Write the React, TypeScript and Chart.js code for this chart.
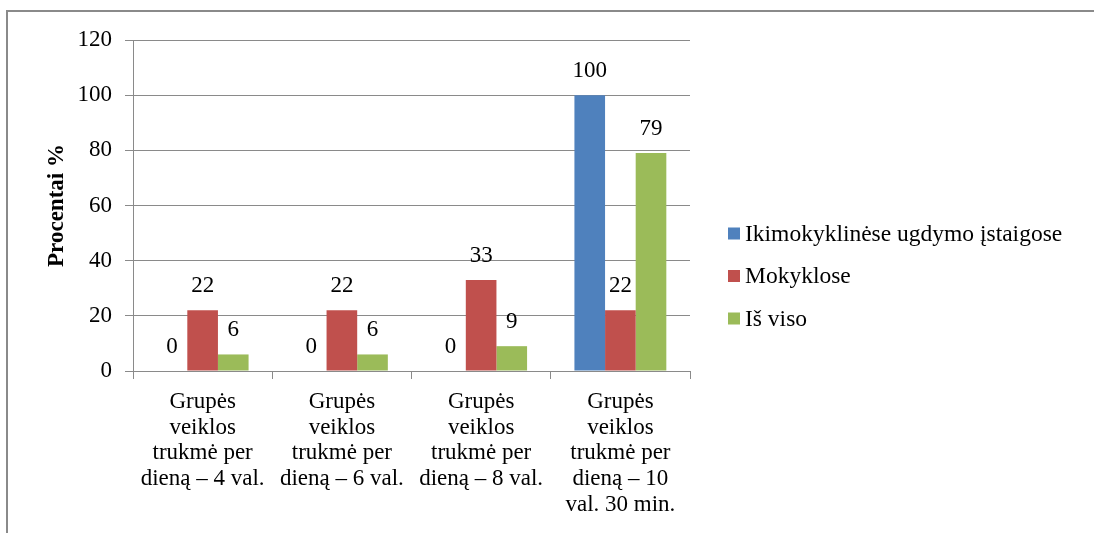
import React, { useEffect, useRef } from "react";
import { Chart, registerables } from "chart.js";

Chart.register(...registerables);

const categories: string[][] = [
  ["Grupės", "veiklos", "trukmė per", "dieną – 4 val."],
  ["Grupės", "veiklos", "trukmė per", "dieną – 6 val."],
  ["Grupės", "veiklos", "trukmė per", "dieną – 8 val."],
  ["Grupės", "veiklos", "trukmė per", "dieną – 10", "val. 30 min."],
];

const seriesNames = ["Ikimokyklinėse ugdymo įstaigose", "Mokyklose", "Iš viso"];
const ikimokyklinese = [0, 0, 0, 100];
const mokyklose = [22, 22, 33, 22];
const isViso = [6, 6, 9, 79];
const seriesColors = ["#4F81BD", "#C0504D", "#9BBB59"];

const yTitle = "Procentai %";
const yMin = 0;
const yMax = 120;
const yStep = 20;

const FONT = "'Liberation Serif', 'Times New Roman', serif";
const GRID = "#8a8a8a";

const valueLabels = {
  id: "valueLabels",
  afterDatasetsDraw(chart: any) {
    const ctx = chart.ctx;
    ctx.save();
    ctx.font = `23px ${FONT}`;
    ctx.fillStyle = "#000";
    ctx.textAlign = "center";
    ctx.textBaseline = "middle";
    chart.data.datasets.forEach((ds: any, i: number) => {
      const meta = chart.getDatasetMeta(i);
      meta.data.forEach((bar: any, j: number) => {
        ctx.fillText(String(ds.data[j]), bar.x, bar.y - 24);
      });
    });
    ctx.restore();
  },
};

// Legend drawn on the canvas to the right of the plot area
const sideLegend = {
  id: "sideLegend",
  afterDraw(chart: any) {
    const ctx = chart.ctx;
    const left = chart.chartArea.right + 38;
    const centerY = 276;
    const step = 42.5;
    const n = chart.data.datasets.length;
    ctx.save();
    ctx.font = `23.5px ${FONT}`;
    ctx.textAlign = "left";
    ctx.textBaseline = "middle";
    chart.data.datasets.forEach((ds: any, i: number) => {
      const cy = centerY + (i - (n - 1) / 2) * step;
      ctx.fillStyle = ds.backgroundColor;
      ctx.fillRect(left, cy - 6, 12, 12);
      ctx.fillStyle = "#000";
      ctx.fillText(ds.label, left + 17, cy + 1);
    });
    ctx.restore();
  },
};

export default function App() {
  const ref = useRef<HTMLCanvasElement | null>(null);

  useEffect(() => {
    if (!ref.current) return;
    const values = [ikimokyklinese, mokyklose, isViso];
    const chart = new Chart(ref.current, {
      type: "bar",
      data: {
        labels: categories,
        datasets: seriesNames.map((name, i) => ({
          label: name,
          data: values[i],
          backgroundColor: seriesColors[i],
          borderWidth: 0,
          categoryPercentage: 0.66,
          barPercentage: 1,
        })),
      },
      options: {
        animation: false,
        responsive: false,
        devicePixelRatio: 1,
        layout: { padding: { left: 40, top: 40, right: 404, bottom: 0 } },
        plugins: {
          tooltip: { enabled: false },
          legend: { display: false },
        },
        scales: {
          x: {
            grid: {
              display: true,
              drawOnChartArea: false,
              drawTicks: true,
              tickLength: 8,
              color: GRID,
              offset: true,
            },
            border: { display: true, color: GRID, width: 1 },
            ticks: {
              color: "#000",
              padding: 10,
              maxRotation: 0,
              autoSkip: false,
              font: { family: FONT, size: 23, lineHeight: 1.12 },
            },
            afterFit: (s: any) => {
              s.height = 162;
            },
          },
          y: {
            min: yMin,
            max: yMax,
            grid: { color: GRID, tickLength: 8, drawTicks: true },
            border: { display: true, color: GRID, width: 1 },
            ticks: {
              stepSize: yStep,
              color: "#000",
              padding: 13,
              font: { family: FONT, size: 23 },
            },
            title: {
              display: true,
              text: yTitle,
              color: "#000",
              padding: { top: 3, bottom: 0 },
              font: { family: FONT, size: 23, weight: "bold", lineHeight: 1.2 },
            },
            afterFit: (s: any) => {
              s.width = 93;
            },
          },
        },
      },
      plugins: [valueLabels, sideLegend],
    } as any);
    return () => chart.destroy();
  }, []);

  return (
    <div
      style={{
        position: "absolute",
        left: 0,
        top: 0,
        width: 1094,
        height: 533,
        background: "#fff",
        overflow: "hidden",
      }}
    >
      <div
        style={{
          position: "absolute",
          left: 6,
          top: 10,
          width: 1200,
          height: 600,
          borderTop: "2px solid #8a8a8a",
          borderLeft: "2px solid #8a8a8a",
        }}
      />
      <canvas
        ref={ref}
        width={1094}
        height={533}
        style={{ position: "absolute", left: 0, top: 0, width: 1094, height: 533 }}
      />
    </div>
  );
}
